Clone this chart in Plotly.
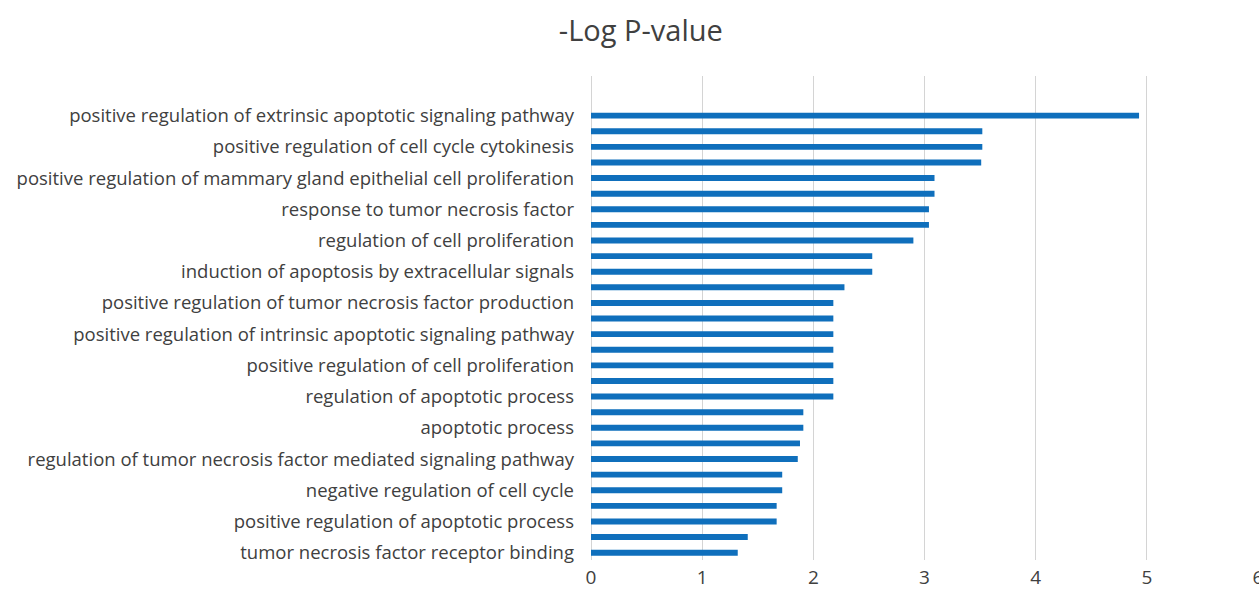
import plotly.graph_objects as go

# -Log P-value per GO term, top to bottom (29 bars; Excel shows every other label)
values = [4.93, 3.52, 3.52, 3.51, 3.09, 3.09, 3.04, 3.04, 2.90, 2.53,
          2.53, 2.28, 2.18, 2.18, 2.18, 2.18, 2.18, 2.18, 2.18, 1.91,
          1.91, 1.88, 1.86, 1.72, 1.72, 1.67, 1.67, 1.41, 1.32]

# labels visible on the axis (at bars 1, 3, 5, ... 29)
shown_labels = [
    "positive regulation of extrinsic apoptotic signaling pathway",
    "positive regulation of cell cycle cytokinesis",
    "positive regulation of mammary gland epithelial cell proliferation",
    "response to tumor necrosis factor",
    "regulation of cell proliferation",
    "induction of apoptosis by extracellular signals",
    "positive regulation of tumor necrosis factor production",
    "positive regulation of intrinsic apoptotic signaling pathway",
    "positive regulation of cell proliferation",
    "regulation of apoptotic process",
    "apoptotic process",
    "regulation of tumor necrosis factor mediated signaling pathway",
    "negative regulation of cell cycle",
    "positive regulation of apoptotic process",
    "tumor necrosis factor receptor binding",
]

x_ticks = [0, 1, 2, 3, 4, 5, 6]

positions = list(range(len(values)))
label_positions = positions[::2]

fig = go.Figure(go.Bar(
    x=values,
    y=positions,
    orientation="h",
    width=0.38,
    marker=dict(color="#0F6FBC", line=dict(width=0)),
))

fig.update_layout(
    width=1259, height=595,
    paper_bgcolor="white", plot_bgcolor="white",
    margin=dict(l=591, r=1, t=76, b=35, autoexpand=False),
    title=dict(text="-Log P-value", x=0.509, xanchor="center", y=0.948, yanchor="middle",
               font=dict(family="Open Sans", size=29, color="#404040")),
    showlegend=False,
    font=dict(family="Open Sans", color="#404040"),
)

fig.update_xaxes(
    range=[0, 6], tickvals=x_ticks,
    showgrid=True, gridcolor="#D4D4D4", gridwidth=1,
    zeroline=True, zerolinecolor="#D4D4D4", zerolinewidth=1,
    showline=False, ticks="", ticklabelstandoff=4,
    ticklabeloverflow="allow", automargin=False,
    tickfont=dict(family="Open Sans", size=19, color="#404040"),
)

fig.update_yaxes(
    range=[28.47, -2.54],
    tickvals=label_positions, ticktext=shown_labels,
    showgrid=False, zeroline=False, showline=False, ticks="",
    ticklabelstandoff=16, automargin=False,
    tickfont=dict(family="Open Sans", size=18.5, color="#404040"),
)

fig.write_html("out.html", config={"displayModeBar": False})

# remove the browser's default body margin so the figure sits at the page origin
with open("out.html", "r", encoding="utf-8") as f:
    html = f.read()
html = html.replace("<head>", "<head><style>html,body{margin:0;padding:0;overflow:hidden;}</style>", 1)
with open("out.html", "w", encoding="utf-8") as f:
    f.write(html)
